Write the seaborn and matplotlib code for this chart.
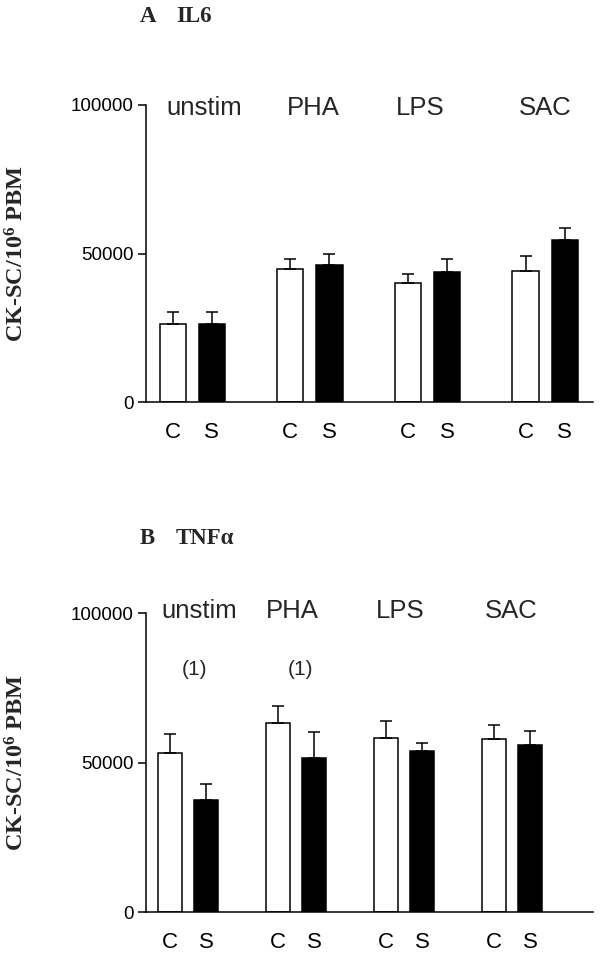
import numpy as np
import pandas as pd
import matplotlib
matplotlib.use("Agg")
from matplotlib import pyplot as plt
import seaborn as sns

# categories
stimuli = ["unstim", "PHA", "LPS", "SAC"]
groups = ["C", "S"]

# A: IL6 (mean and upper SEM)
il6_c = [26170, 44970, 40270, 44180]
il6_c_err = [4030, 3350, 3020, 5040]
il6_s = [26400, 46310, 43850, 54470]
il6_s_err = [3800, 3470, 4250, 4200]

# B: TNF alpha
tnf_c = [53360, 63420, 58170, 57830]
tnf_c_err = [6150, 5600, 5810, 4810]
tnf_s = [37500, 51570, 53800, 56040]
tnf_s_err = [5580, 8830, 2910, 4700]
tnf_notes = ["(1)", "(1)", "", ""]

sns.set_theme(style="ticks", rc={"axes.edgecolor": "black", "xtick.color": "black",
                                 "ytick.color": "black", "axes.linewidth": 1.1})
plt.rcParams["font.family"] = ["Liberation Sans", "DejaVu Sans"]
plt.rcParams["mathtext.fontset"] = "custom"
plt.rcParams["mathtext.rm"] = "Liberation Serif:bold"
plt.rcParams["mathtext.bf"] = "Liberation Serif:bold"
plt.rcParams["mathtext.default"] = "rm"


def make_frame(c_vals, c_err, s_vals, s_err):
    rows = []
    for i, stim in enumerate(stimuli):
        rows.append({"stim": stim, "group": "C", "pos": 3 * i, "value": c_vals[i], "err": c_err[i]})
        rows.append({"stim": stim, "group": "S", "pos": 3 * i + 1, "value": s_vals[i], "err": s_err[i]})
    return pd.DataFrame(rows)


def draw_panel(ax, df, xlim, label_x, label_y):
    sns.barplot(data=df, x="pos", y="value", hue="group", native_scale=True, dodge=False,
                palette={"C": "white", "S": "black"}, width=0.67, edgecolor="black",
                linewidth=1.1, errorbar=None, legend=False, ax=ax)
    ax.errorbar(df["pos"], df["value"], yerr=[np.zeros(len(df)), df["err"]], fmt="none",
                ecolor="black", elinewidth=1.1, capsize=4.2, capthick=1.1, zorder=3)
    ax.set_xlim(xlim)
    ax.set_ylim(0, 100000)
    ax.set_yticks([0, 50000, 100000])
    ax.set_xticks(df["pos"])
    ax.set_xticklabels(df["group"])
    ax.tick_params(axis="y", length=6, width=1.1, pad=3, labelsize=13.5)
    ax.tick_params(axis="x", length=0, pad=14, labelsize=16)
    ax.set_xlabel("")
    ax.set_ylabel("CK-SC/10$^{6}$ PBM", fontfamily="Liberation Serif", fontweight="bold",
                  fontsize=17.5)
    ax.yaxis.set_label_coords(-0.262, 0.5)
    for x, name in zip(label_x, stimuli):
        ax.text(x, label_y, name, ha="center", va="center", fontsize=18.5)
    sns.despine(ax=ax)


fig = plt.figure(figsize=(6, 9.56), dpi=100)
ax_a = fig.add_axes([0.2433, 0.5792, 0.745, 0.311])
ax_b = fig.add_axes([0.2433, 0.0456, 0.745, 0.3129])

draw_panel(ax_a, make_frame(il6_c, il6_c_err, il6_s, il6_s_err), (-0.68, 10.72),
           [0.80, 3.59, 6.31, 9.49], 99000)
draw_panel(ax_b, make_frame(tnf_c, tnf_c_err, tnf_s, tnf_s_err), (-0.67, 11.74),
           [0.82, 3.39, 6.38, 9.46], 100600)

for x, note in zip([0.69, 3.61], tnf_notes[:2]):
    ax_b.text(x, 81100, note, ha="center", va="center", fontsize=15)

# panel titles
title_kw = dict(fontfamily="Liberation Serif", fontweight="bold", fontsize=16.5, va="center")
fig.text(140 / 600, 1 - 16 / 956, "A", **title_kw)
fig.text(176 / 600, 1 - 16 / 956, "IL6", **title_kw)
fig.text(140 / 600, 1 - 538 / 956, "B", **title_kw)
fig.text(176 / 600, 1 - 538 / 956, "TNFα", **title_kw)

fig.savefig("out.png", dpi=100)
